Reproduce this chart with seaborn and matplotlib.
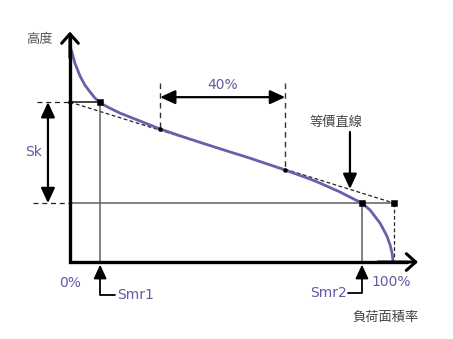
import numpy as np
import pandas as pd
import matplotlib
matplotlib.use("Agg")
import matplotlib.pyplot as plt
import seaborn as sns

# ---- data ----
bearing = [0, 0.6, 1.5, 3.1, 4.6, 6.2, 7.7, 9.3, 12.3, 15.4, 21.6, 27.8, 34.0, 40.1,
           46.3, 55.6, 66.4, 74.1, 77.2, 83.3, 86.4, 90.1, 92.6, 95.7, 97.8, 98.8, 99.4, 99.7]
height = [100, 97.7, 92.6, 86.5, 82.3, 79.1, 76.3, 74.0, 71.6, 69.3, 65.6, 61.9, 58.7, 55.7,
          52.7, 48.3, 42.8, 38.6, 36.7, 32.6, 30.2, 27.4, 24.2, 18.1, 12.1, 7.9, 4.2, 0.5]
window = [27.8, 66.4]          # 40 % secant window (bearing ratio)
window_h = [61.9, 42.8]        # curve heights at window ends
eq_line_x = [0, 100]
eq_line_h = [74.4, 27.4]       # equivalent straight line at 0 % and 100 %
smr = [9.3, 90.1]              # Smr1, Smr2
labels = {"sk": "Sk", "win": "40%", "x0": "0%", "x100": "100%",
          "smr1": "Smr1", "smr2": "Smr2", "xlab": "負荷面積率",
          "ylab": "高度", "eq": "等價直線"}

sns.set_theme(style="white")
plt.rcParams['font.family'] = ['DejaVu Sans']
CJK = ['Noto Sans CJK TC', 'DejaVu Sans']

PURPLE = '#6A5FAA'
TXT = '#6658A6'
GRAY = '#606060'

fig = plt.figure(figsize=(4.53, 3.39), dpi=100)
ax = fig.add_axes([0, 0, 1, 1])
ax.set_xlim(-21.6, 118.2)
ax.set_ylim(-35.8, 121.9)
ax.axis('off')

# equivalent straight line (dotted)
ax.plot(eq_line_x, eq_line_h, color='#222222', lw=0.9, ls=(0, (3, 2)), zorder=2)

# curve
df = pd.DataFrame({"bearing": bearing, "height": height})
sns.lineplot(data=df, x="bearing", y="height", sort=False, color=PURPLE, lw=2.0,
             ax=ax, zorder=3)

sk_top, sk_bot = eq_line_h
# horizontal reference lines
ax.plot([-10.2, 0], [sk_top, sk_top], color='#222222', lw=0.9, ls=(0, (4, 3)), zorder=2)
ax.plot([0, smr[0]], [sk_top, sk_top], color='#111111', lw=1.1, zorder=2)
ax.plot([-11.4, 0], [sk_bot, sk_bot], color='#222222', lw=0.9, ls=(0, (4, 3)), zorder=2)
ax.plot([0, 100], [sk_bot, sk_bot], color=GRAY, lw=1.1, zorder=2)
# vertical reference lines
ax.plot([smr[0], smr[0]], [sk_top, 0], color=GRAY, lw=1.1, zorder=2)
ax.plot([smr[1], smr[1]], [sk_bot, 0], color=GRAY, lw=1.1, zorder=2)
ax.plot([100, 100], [sk_bot, 1.5], color='#222222', lw=0.9, ls=(0, (3, 2)), zorder=2)
# 40 % window verticals
for wx, wh in zip(window, window_h):
    ax.plot([wx, wx], [83.3, wh], color='#333333', lw=1.0, ls=(0, (4, 3)), zorder=2)

# markers
sq = pd.DataFrame({"x": [smr[0], smr[1], 100], "y": [sk_top, sk_bot, sk_bot]})
sns.scatterplot(data=sq, x="x", y="y", marker='s', s=22, color='black',
                edgecolor='black', ax=ax, zorder=5)
dots = pd.DataFrame({"x": [0] + window, "y": [sk_top] + window_h})
sns.scatterplot(data=dots, x="x", y="y", marker='o', s=9, color='black',
                edgecolor='black', ax=ax, zorder=5)

# main axes (thick, open arrowheads)
ax.plot([0, 0, 104], [105, 0, 0], color='black', lw=2.4, solid_joinstyle='miter', zorder=4)
axis_arrow = dict(arrowstyle='->,head_length=0.45,head_width=0.4', lw=2.2, color='black',
                  shrinkA=0, shrinkB=0, mutation_scale=15)
ax.annotate('', xy=(0, 107.2), xytext=(0, 95), arrowprops=axis_arrow, zorder=4)
ax.annotate('', xy=(107.4, 0), xytext=(95, 0), arrowprops=axis_arrow, zorder=4)

filled = dict(lw=1.6, color='black', shrinkA=0, shrinkB=0, mutation_scale=14)
# Sk double arrow
ax.annotate('', xy=(-6.8, sk_top), xytext=(-6.8, sk_bot),
            arrowprops=dict(arrowstyle='<|-|>,head_length=0.65,head_width=0.3', **filled))
# 40 % double arrow
ax.annotate('', xy=(window[0], 76.7), xytext=(window[1], 76.7),
            arrowprops=dict(arrowstyle='<|-|>,head_length=0.65,head_width=0.3', **filled))
# equivalent line pointer
ax.annotate('', xy=(86.4, 34.0), xytext=(86.4, 60.5),
            arrowprops=dict(arrowstyle='-|>,head_length=0.65,head_width=0.3', **filled))
# Smr pointers
thin = dict(lw=1.3, color='black', shrinkA=0, shrinkB=0, mutation_scale=13)
ax.plot([smr[0], smr[0], 13.9], [-6, -15.3, -15.3], color='black', lw=1.3)
ax.annotate('', xy=(smr[0], -1.2), xytext=(smr[0], -8),
            arrowprops=dict(arrowstyle='-|>,head_length=0.65,head_width=0.3', **thin))
ax.plot([smr[1], smr[1], 85.8], [-6, -14.4, -14.4], color='black', lw=1.3)
ax.annotate('', xy=(smr[1], -1.2), xytext=(smr[1], -8),
            arrowprops=dict(arrowstyle='-|>,head_length=0.65,head_width=0.3', **thin))

# texts
ax.text(-11.1, 51.2, labels["sk"], color=TXT, fontsize=10, ha='center', va='center')
ax.text(47.2, 82.3, labels["win"], color=TXT, fontsize=10, ha='center', va='center')
ax.text(0, -9.8, labels["x0"], color=TXT, fontsize=10, ha='center', va='center')
ax.text(99.1, -9.3, labels["x100"], color=TXT, fontsize=10, ha='center', va='center')
ax.text(14.5, -15.3, labels["smr1"], color=TXT, fontsize=10, ha='left', va='center')
ax.text(85.5, -14.4, labels["smr2"], color=TXT, fontsize=10, ha='right', va='center')
ax.text(97.2, -25.6, labels["xlab"], color='#444444', fontsize=9.5, ha='center',
        va='center', family=CJK)
ax.text(-9.3, 103.7, labels["ylab"], color='#555555', fontsize=9.5, ha='center',
        va='center', family=CJK)
ax.text(82.1, 64.7, labels["eq"], color='#444444', fontsize=9.5, ha='center',
        va='center', family=CJK)

fig.savefig('out.png', dpi=100)
